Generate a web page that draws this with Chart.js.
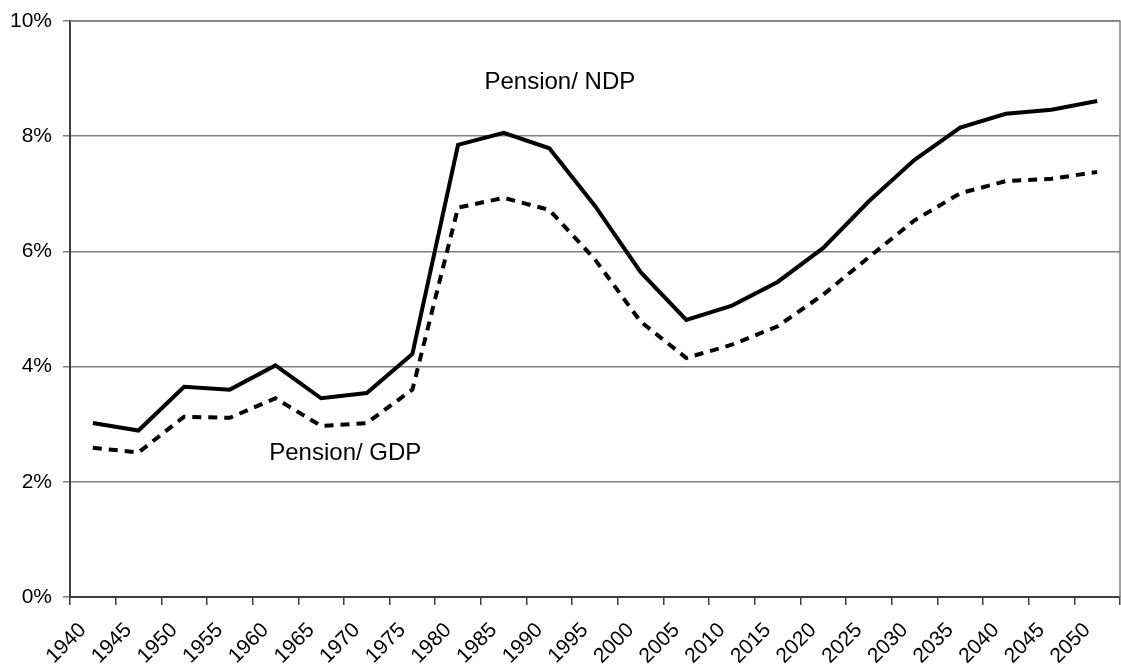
<!DOCTYPE html>
<html>
<head>
<meta charset="utf-8">
<script src="https://cdn.jsdelivr.net/npm/chart.js@4.4.0/dist/chart.umd.min.js"></script>
<style>
  html, body { margin: 0; padding: 0; background: #fff; }
  #wrap { width: 1121px; height: 668px; }
</style>
</head>
<body>
<div id="wrap"><canvas id="myChart" width="1121" height="668"></canvas></div>
<script>
const anos = ['1940','1945','1950','1955','1960','1965','1970','1975','1980','1985','1990','1995',
  '2000','2005','2010','2015','2020','2025','2030','2035','2040','2045','2050'];

// % do produto
const pensaoNDP = [3.02, 2.89, 3.65, 3.60, 4.02, 3.45, 3.54, 4.22, 7.85, 8.06, 7.79, 6.79,
  5.64, 4.81, 5.06, 5.47, 6.06, 6.87, 7.59, 8.15, 8.39, 8.46, 8.61];
const pensaoGDP = [2.59, 2.51, 3.13, 3.11, 3.45, 2.97, 3.02, 3.60, 6.76, 6.93, 6.72, 5.86,
  4.78, 4.15, 4.38, 4.70, 5.25, 5.90, 6.54, 7.01, 7.22, 7.26, 7.38];

const yTicks = [0, 2, 4, 6, 8, 10];

// rotulos dentro do grafico: [texto, indice da categoria, valor]
const rotulos = [
  ['Pension/ NDP', 10.23, 8.93],
  ['Pension/ GDP', 5.53, 2.49]
];

const fonte = 'Liberation Sans, Arial, sans-serif';

// borda da area do grafico + rotulos
const extras = {
  id: 'extras',
  afterDraw(chart) {
    const { ctx, chartArea: a, scales } = chart;
    ctx.save();
    ctx.strokeStyle = '#808080';
    ctx.lineWidth = 1.5;
    ctx.beginPath();
    ctx.moveTo(a.left, a.top);
    ctx.lineTo(a.right, a.top);
    ctx.lineTo(a.right, a.bottom);
    ctx.stroke();
    ctx.fillStyle = '#000';
    ctx.font = '24px ' + fonte;
    ctx.textAlign = 'center';
    ctx.textBaseline = 'middle';
    rotulos.forEach(([txt, i, v]) => {
      ctx.fillText(txt, scales.x.getPixelForValue(i), scales.y.getPixelForValue(v));
    });
    ctx.restore();
  }
};

const ctx = document.getElementById('myChart').getContext('2d');

new Chart(ctx, {
  type: 'line',
  data: {
    labels: anos,
    datasets: [
      {
        label: 'Pension/ NDP',
        data: pensaoNDP,
        borderColor: '#000',
        borderWidth: 4,
        pointRadius: 0,
        tension: 0,
        borderJoinStyle: 'miter'
      },
      {
        label: 'Pension/ GDP',
        data: pensaoGDP,
        borderColor: '#000',
        borderWidth: 4,
        borderDash: [9, 7],
        pointRadius: 0,
        tension: 0
      }
    ]
  },
  options: {
    responsive: false,
    animation: false,
    layout: { padding: { top: 21, right: 1, left: 0, bottom: 0 } },
    plugins: {
      legend: { display: false },
      tooltip: { enabled: false }
    },
    scales: {
      x: {
        offset: true,
        grid: {
          offset: true,
          drawOnChartArea: false,
          drawTicks: true,
          tickLength: 8,
          color: '#404040',
          lineWidth: 1.5
        },
        border: { color: '#404040', width: 2 },
        ticks: {
          autoSkip: false,
          maxRotation: 45,
          minRotation: 45,
          color: '#000',
          padding: 13,
          labelOffset: -10,
          font: { family: fonte, size: 21 }
        },
        afterFit(s) {
          s.height = 71;
          s.paddingLeft = 0;
          s.paddingRight = 0;
        }
      },
      y: {
        min: 0,
        max: 10,
        afterBuildTicks(s) { s.ticks = yTicks.map(v => ({ value: v })); },
        grid: {
          color: '#808080',
          lineWidth: 1.5,
          tickLength: 7,
          drawTicks: true
        },
        border: { color: '#404040', width: 2 },
        ticks: {
          color: '#000',
          padding: 11,
          font: { family: fonte, size: 21 },
          callback: v => v + '%'
        },
        afterFit(s) {
          s.width = 70;
          s.paddingTop = 0;
          s.paddingBottom = 0;
        }
      }
    }
  },
  plugins: [extras]
});
</script>
</body>
</html>
